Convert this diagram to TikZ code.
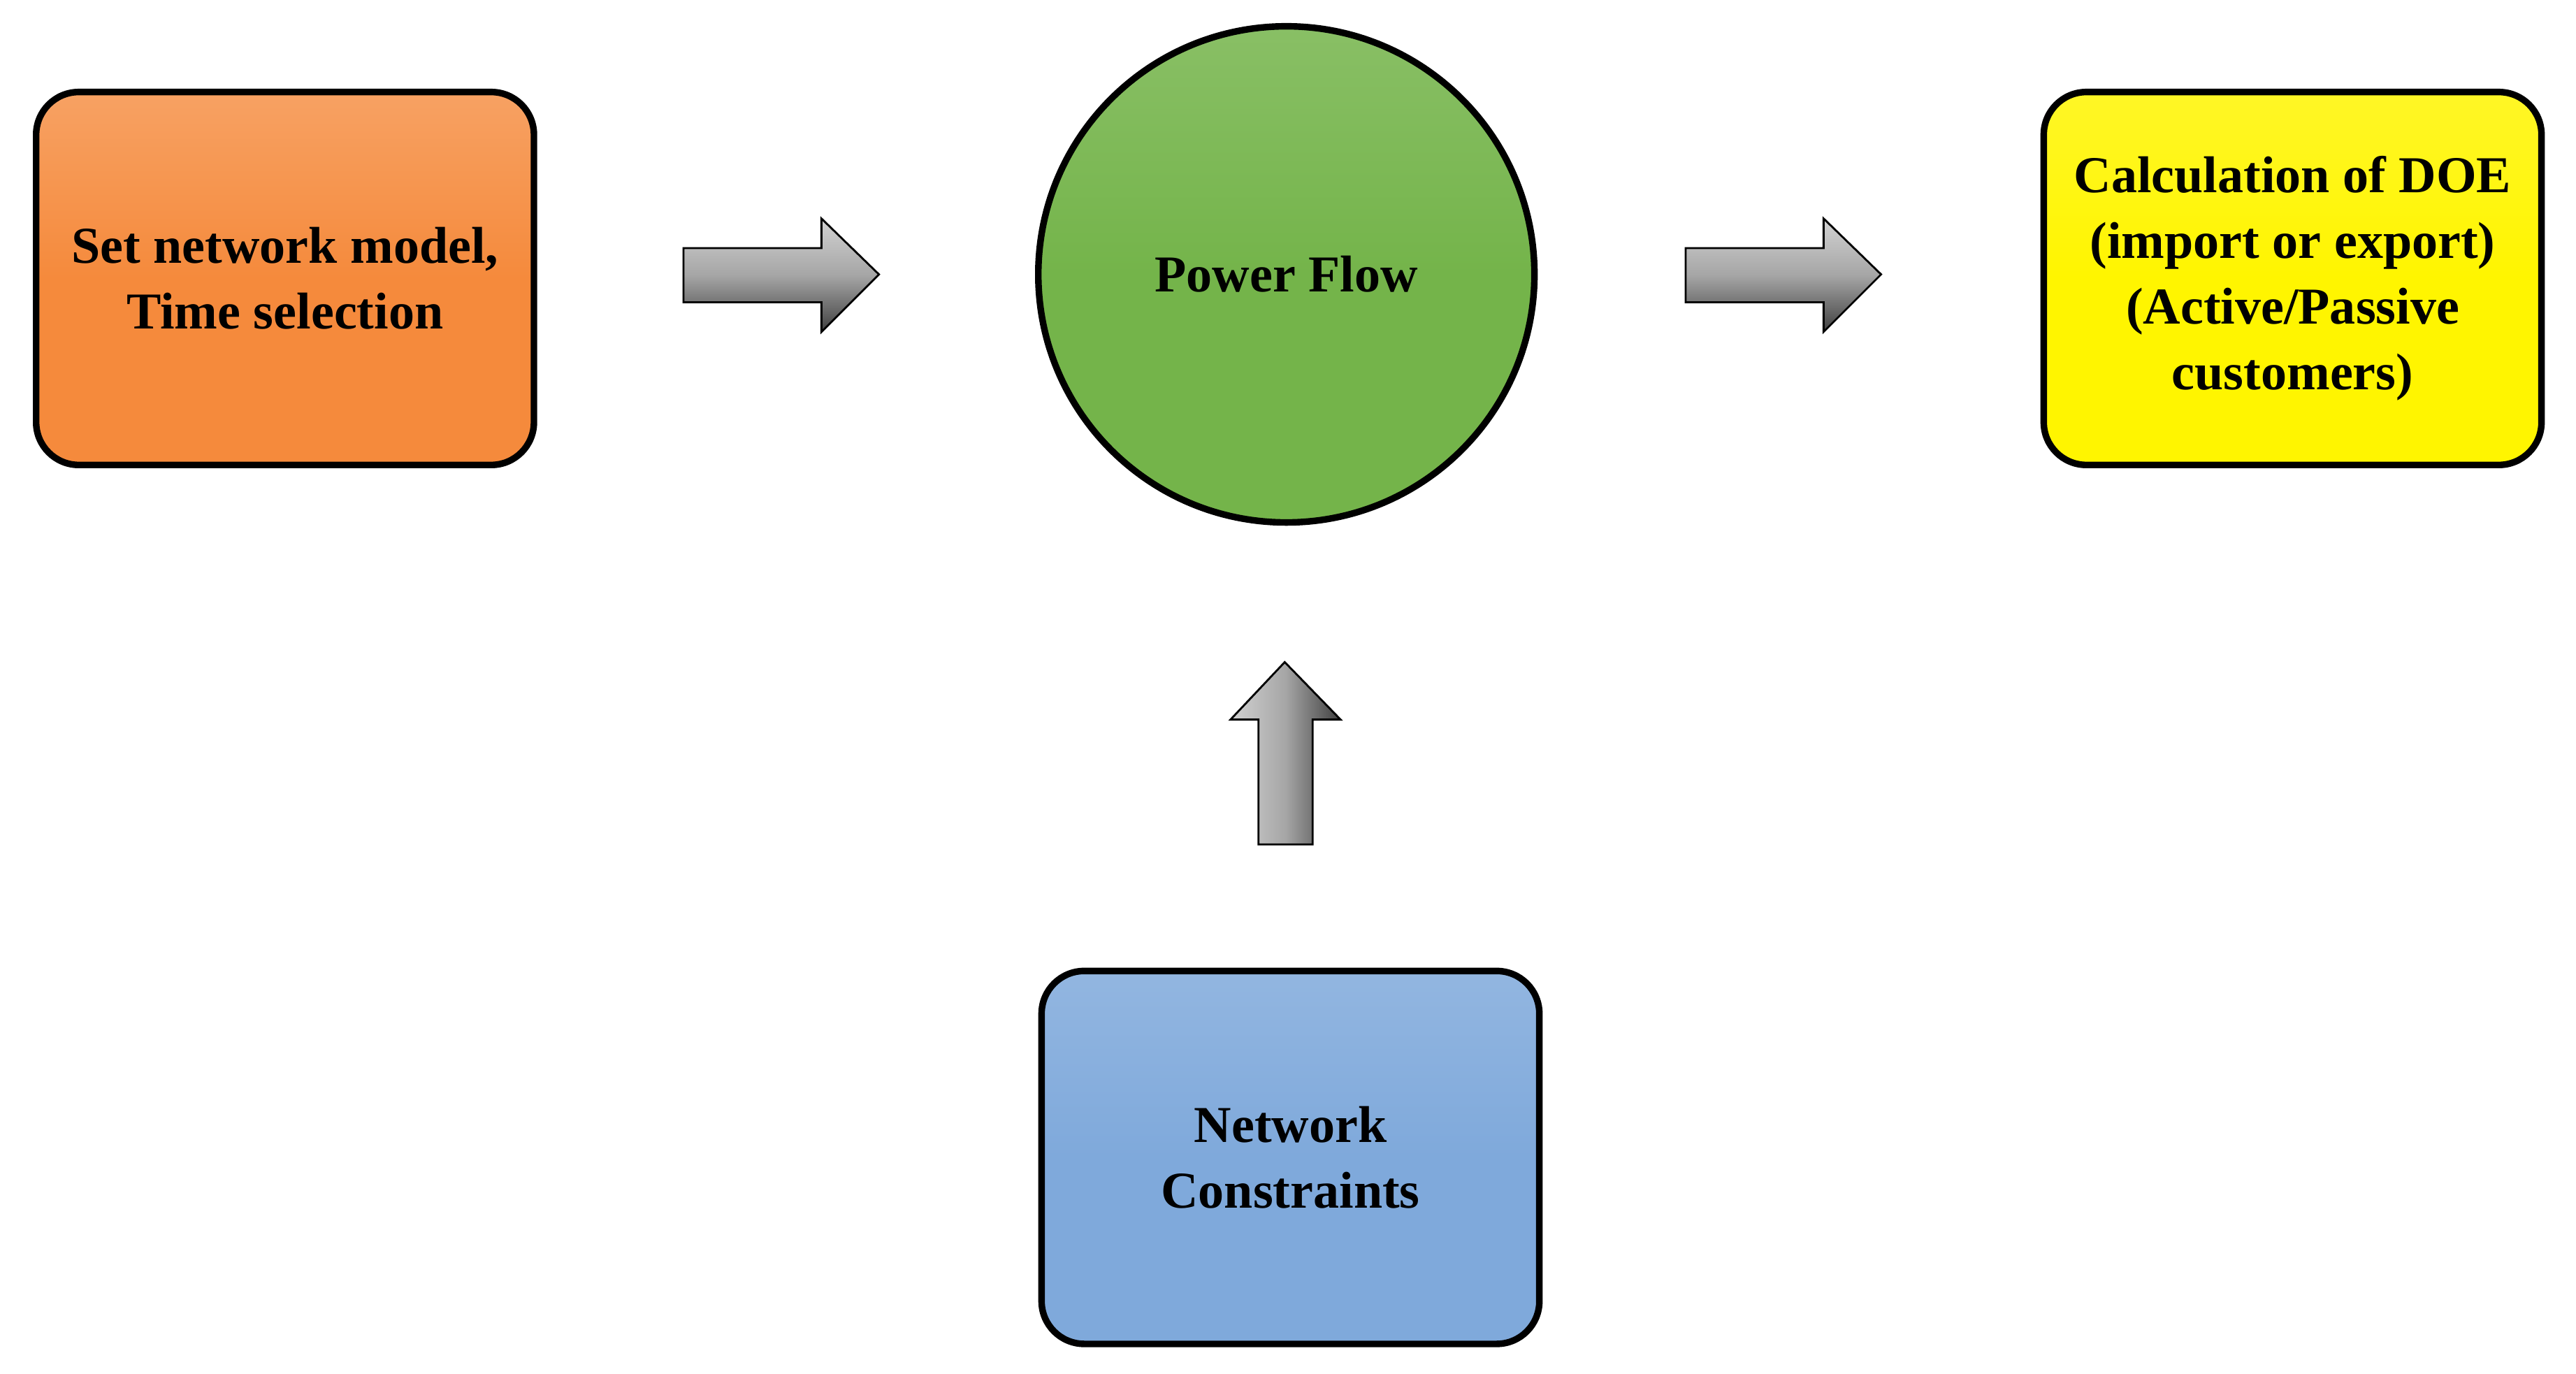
\documentclass[tikz,border=0pt]{standalone}
\usepackage{fontspec}
\setmainfont{Liberation Serif}
\usetikzlibrary{shapes.geometric}
\definecolor{org}{HTML}{F58A3C}
\definecolor{grn}{HTML}{74B44A}
\definecolor{ylw}{HTML}{FFF500}
\definecolor{blu}{HTML}{7FA9DB}
\begin{document}
\begin{tikzpicture}[x=1pt,y=-1pt,
  box/.style={draw=black,line width=4pt,rounded corners=26pt,minimum width=303pt,minimum height=227pt,align=center,font=\bfseries\fontsize{31.5}{40}\selectfont,anchor=north west,inner sep=2pt},
  arr/.style={draw=black,line width=1.2pt,top color=gray!35,bottom color=black!75,middle color=gray!70}]
\useasboundingbox (0,0) rectangle (1568,836);
\node[box,top color=org!80,bottom color=org,middle color=org] (a) at (20,54) {Set network model,\\Time selection};
\node[box,top color=ylw!85,bottom color=ylw,middle color=ylw] (c) at (1242,54) {Calculation of DOE\\(import or export)\\(Active/Passive\\customers)};
\node[box,top color=blu!85,bottom color=blu,middle color=blu] (d) at (632,589) {Network\\Constraints};
\node[circle,draw=black,line width=4pt,minimum size=302pt,inner sep=0pt,top color=grn!85,bottom color=grn,middle color=grn,font=\bfseries\fontsize{31.5}{40}\selectfont] (b) at (783,167) {Power Flow};
\path[arr] (416,151) -- (500,151) -- (500,133) -- (535,167) -- (500,202) -- (500,184) -- (416,184) -- cycle;
\path[arr] (1026,151) -- (1110,151) -- (1110,133) -- (1145,167) -- (1110,202) -- (1110,184) -- (1026,184) -- cycle;
\path[arr,left color=gray!35,right color=black!75,middle color=gray!70] (766,514) -- (766,438) -- (749,438) -- (782,403) -- (816,438) -- (799,438) -- (799,514) -- cycle;
\end{tikzpicture}
\end{document}
